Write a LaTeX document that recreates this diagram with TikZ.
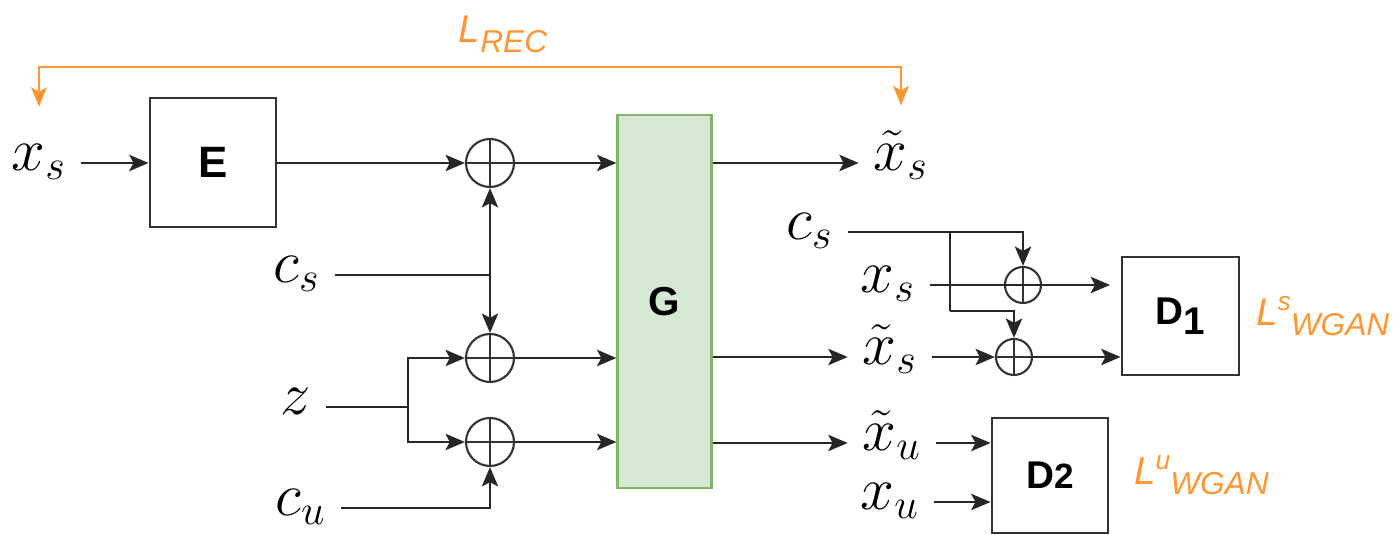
\documentclass[tikz,border=0pt]{standalone}
\usepackage{amsmath,amssymb}
\usepackage{xcolor}
\usepackage{fontspec}
\setsansfont{Liberation Sans}
\usepackage{tikz}
\usetikzlibrary{arrows.meta, positioning}
\definecolor{lossorange}{RGB}{255,150,50}
\definecolor{genfill}{RGB}{213,232,212}
\definecolor{gendraw}{RGB}{130,179,102}

\begin{document}
\begin{tikzpicture}[every node/.style={font=\sffamily}]
  % Styles
  \tikzset{
    block/.style={rectangle, draw=black!80, line width=0.8pt, inner sep=0pt, font=\fontsize{11}{13}\selectfont\sffamily\bfseries},
    gblock/.style={block, fill=genfill, draw=gendraw, line width=0.6pt},
    var/.style={font=\fontsize{17}{20}\selectfont, inner sep=4pt, anchor=mid},
    adder/.style={circle, draw=black!80, line width=0.6pt, inner sep=0pt,
      path picture={\draw[black!80, line width=0.6pt]
        (path picture bounding box.north) -- (path picture bounding box.south)
        (path picture bounding box.west) -- (path picture bounding box.east);}},
    bigadd/.style={adder, minimum size=0.48cm},
    smalladd/.style={adder, minimum size=0.36cm},
    loss/.style={text=lossorange, inner sep=0pt, font=\fontsize{11}{13}\selectfont\sffamily\itshape},
    arrow/.style={-{Stealth[length=5.5pt, width=4.6pt, inset=1.2pt]}, line width=0.8pt, black!85},
    lossarrow/.style={{Stealth[length=5.5pt, width=4.4pt, inset=1.2pt]}-{Stealth[length=5.5pt, width=4.4pt, inset=1.2pt]}, line width=0.8pt, lossorange}
  }
  \useasboundingbox (0,0) rectangle (13.99,-5.35);

  % Nodes
  \node[block, minimum width=1.26cm, minimum height=1.29cm, font=\fontsize{12.5}{14}\selectfont\sffamily\bfseries] (enc) at (2.13,-1.625) {E};
  \node[gblock, minimum width=0.94cm, minimum height=3.73cm, font=\fontsize{11.5}{14}\selectfont\sffamily\bfseries] (gen) at (6.645,-3.015) {G};
  \node[block, minimum width=1.17cm, minimum height=1.18cm] (d1) at (11.805,-3.16) {D\raisebox{-3pt}{1}};
  \node[block, minimum width=1.16cm, minimum height=1.15cm] (d2) at (10.50,-4.755) {D{\fontsize{10}{12}\selectfont 2}};

  \node[var] (xs) at (0.39,-1.63) {$x_s$};
  \node[var] (cs) at (2.97,-2.75) {$c_s$};
  \node[var] (z) at (2.96,-4.07) {$z$};
  \node[var] (cu) at (3.01,-5.08) {$c_u$};
  \node[var] (xsrec) at (9.01,-1.63) {$\tilde{x}_s$};
  \node[var] (csd) at (8.10,-2.32) {$c_s$};
  \node[var] (xsd) at (8.88,-2.85) {$x_s$};
  \node[var] (xsgen) at (8.90,-3.57) {$\tilde{x}_s$};
  \node[var] (xugen) at (8.92,-4.43) {$\tilde{x}_u$};
  \node[var] (xud) at (8.90,-5.02) {$x_u$};

  \node[bigadd] (a1) at (4.90,-1.63) {};
  \node[bigadd] (a2) at (4.90,-3.58) {};
  \node[bigadd] (a3) at (4.90,-4.42) {};
  \node[smalladd] (a4) at (10.23,-2.85) {};
  \node[smalladd] (a5) at (10.14,-3.57) {};

  \node[loss] (lrec) at (5.03,-0.34) {L\raisebox{-2.9pt}{\fontsize{9}{11}\selectfont REC}};
  \node[loss, right=0.15cm of d1] (lsw) {L\raisebox{4.3pt}{\fontsize{7.5}{9}\selectfont s}\raisebox{-2.9pt}{\fontsize{9}{11}\selectfont WGAN}};
  \node[loss, right=0.24cm of d2] (luw) {L\raisebox{4.3pt}{\fontsize{7.5}{9}\selectfont u}\raisebox{-2.9pt}{\fontsize{9}{11}\selectfont WGAN}};

  \coordinate (zsplit) at (4.08,-4.07);
  \coordinate (cssplit) at (9.50,-2.32);
  \coordinate (csjog) at (9.50,-3.11);
  \coordinate (top) at (0,-0.67);

  % Arrows
  \draw[arrow] (xs.mid east) -- (xs.mid east -| enc.west);
  \draw[arrow] (enc.east |- a1.west) -- (a1.west);
  \draw[arrow] (a1.east) -- (a1.east -| gen.west);
  \draw[arrow] (cs.mid east) -| (a1.south);
  \draw[arrow] (cs.mid east) -| (a2.north);
  \draw[line width=0.8pt, black!85] (z.mid east) -- (zsplit);
  \draw[arrow] (zsplit) |- (a2.west);
  \draw[arrow] (zsplit) |- (a3.west);
  \draw[arrow] (cu.mid east) -| (a3.south);
  \draw[arrow] (a2.east) -- (a2.east -| gen.west);
  \draw[arrow] (a3.east) -- (a3.east -| gen.west);
  \draw[arrow] (xsrec.mid west -| gen.east) -- (xsrec.mid west);
  \draw[arrow] (xsgen.mid west -| gen.east) -- (xsgen.mid west);
  \draw[arrow] (xugen.mid west -| gen.east) -- (xugen.mid west);

  \draw[arrow] (csd.mid east) -| (a4.north);
  \draw[line width=0.8pt, black!85] (cssplit) -- (csjog);
  \draw[arrow] (csjog) -| (a5.north);
  \draw[arrow, shorten >=3pt] (xsd.mid east) -- (xsd.mid east -| d1.west);
  \draw[arrow] (xsgen.mid east) -- (xsgen.mid east -| a5.west);
  \draw[arrow] (a5.east) -- (a5.east -| d1.west);
  \draw[arrow] (xugen.mid east) -- (xugen.mid east -| d2.west);
  \draw[arrow] (xud.mid east) -- (xud.mid east -| d2.west);

  \draw[lossarrow, shorten <=6.5pt, shorten >=3pt] (xs.north) -- (xs.north |- top) -| (xsrec.north);
\end{tikzpicture}
\end{document}
